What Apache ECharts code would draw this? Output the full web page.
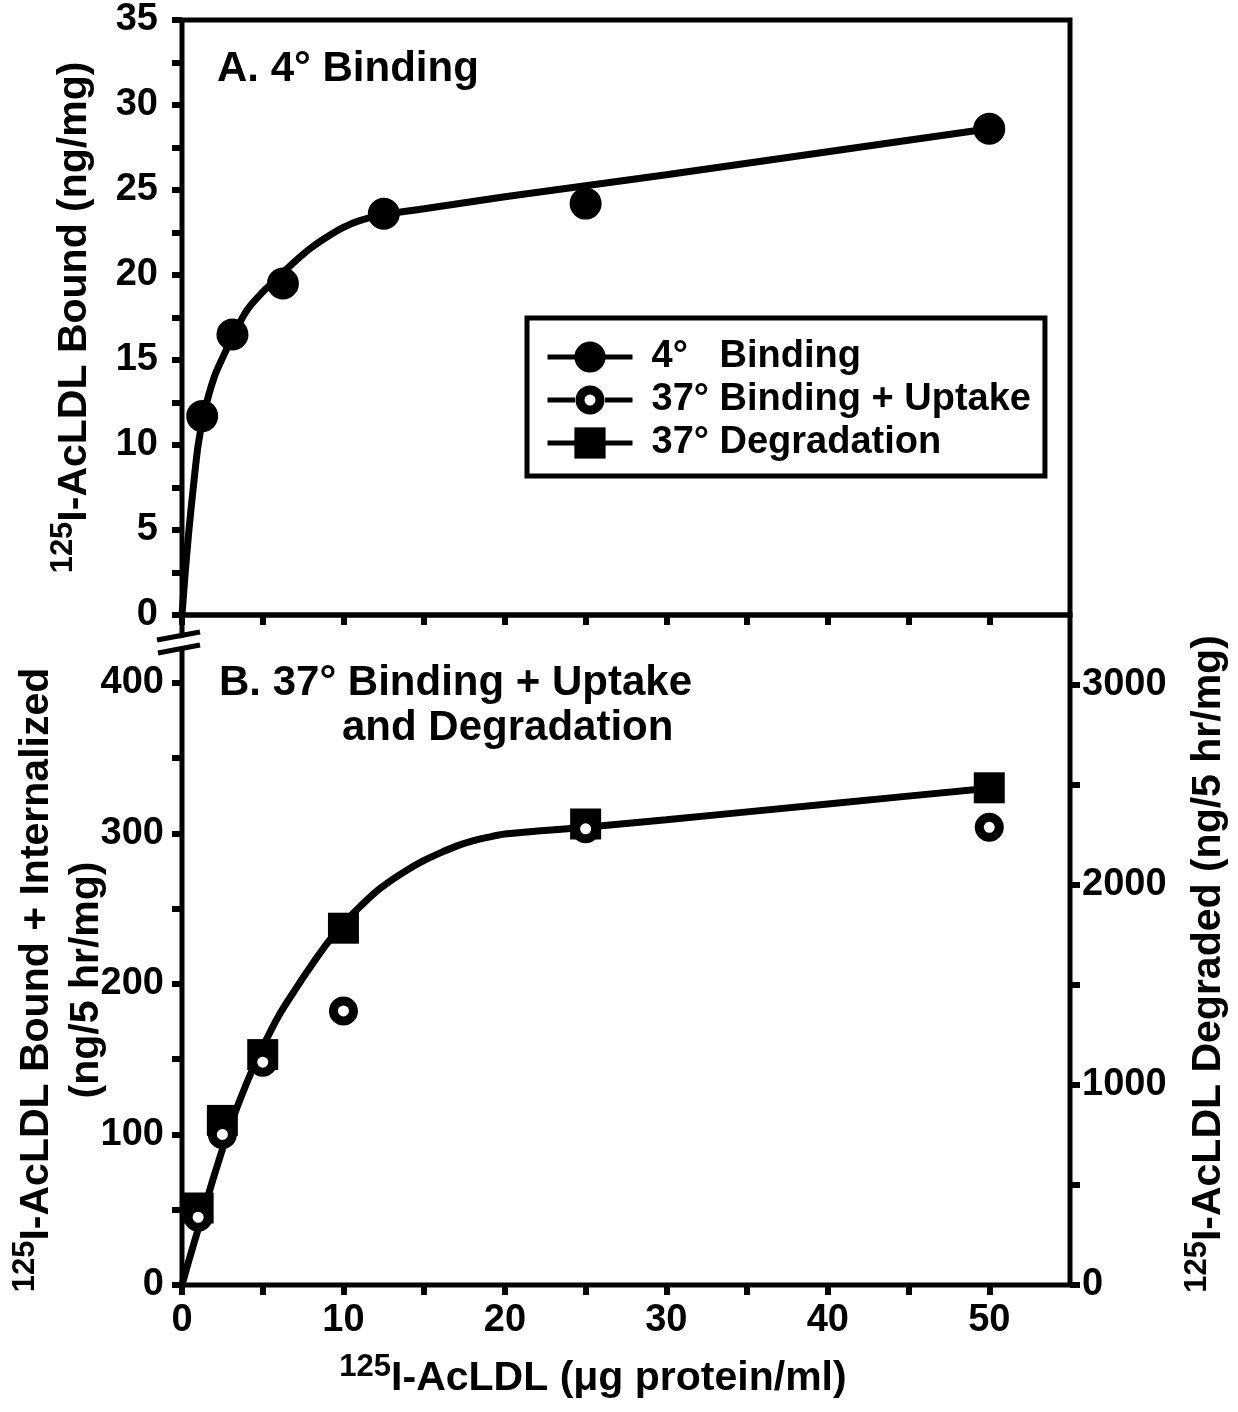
<!DOCTYPE html>
<html>
<head>
<meta charset="utf-8">
<script src="https://cdn.jsdelivr.net/npm/echarts@6/dist/echarts.min.js"></script>
<style>
  html, body { margin: 0; padding: 0; background: #fff; }
  #main { width: 1238px; height: 1412px; }
</style>
</head>
<body>
<div id="main"></div>
<script>
var FONT = '"Liberation Sans", Arial, Helvetica, sans-serif';

// panel A - 4° binding (ng/mg)
var bindConc = [1.25, 3.125, 6.25, 12.5, 25, 50];
var bind4 = [11.7, 16.5, 19.5, 23.6, 24.2, 28.6];
var fitAConc = [0, 0.2, 0.43, 0.7, 1, 1.4, 2, 2.6, 3.1, 4, 5, 6, 7, 8, 9, 10, 11, 12.5, 15, 20, 25, 30, 40, 50];
var fitA = [0, 2.5, 5, 7.5, 10, 12, 14, 15.3, 16.3, 17.9, 19.0, 19.9, 20.8, 21.6, 22.25, 22.8, 23.2, 23.55, 23.9, 24.6, 25.25, 25.9, 27.25, 28.6];

// panel B - 37° uptake (left axis) and degradation (right axis)
var conc37 = [1, 2.5, 5, 10, 25, 50];
var uptake37 = [45, 100, 148, 182, 303, 304];
var degraded37 = [385, 823, 1152, 1784, 2305, 2486];
var fitBConc = [0, 0.5, 1, 1.5, 2, 3, 4, 5, 6, 7, 8, 9, 10, 11, 12, 13, 14, 15, 16, 17, 18, 19, 20, 22, 25, 30, 40, 50];
var fitB = [0, 19, 37, 55, 73, 106, 134, 158, 179, 196, 212, 227, 240, 251, 261, 269, 276, 282, 287, 291.5, 295, 297.5, 299.5, 301.5, 304, 309, 319.5, 330];

// ticks / labels
var xTicks = [0, 5, 10, 15, 20, 25, 30, 35, 40, 45, 50];
var xLabels = [0, 10, 20, 30, 40, 50];
var yATicks = [0, 2.5, 5, 7.5, 10, 12.5, 15, 17.5, 20, 22.5, 25, 27.5, 30, 32.5, 35];
var yALabels = [0, 5, 10, 15, 20, 25, 30, 35];
var yBTicks = [0, 50, 100, 150, 200, 250, 300, 350, 400];
var yBLabels = [0, 100, 200, 300, 400];
var yRTicks = [0, 500, 1000, 1500, 2000, 2500, 3000];
var yRLabels = [0, 1000, 2000, 3000];

var seriesNames = ['4°   Binding', '37° Binding + Uptake', '37° Degradation'];

function pairs(xs, ys) {
  return xs.map(function (x, i) { return [x, ys[i]]; });
}

var tickStyle = { color: '#000', width: 6 };
var labelStyle = {
  color: '#000', fontSize: 38, fontWeight: 'bold', fontFamily: FONT,
  formatter: function (v) { return String(v); }
};
var rich = {
  s: { fontSize: 31, fontWeight: 'bold', fontFamily: FONT, color: '#000', lineHeight: 31, verticalAlign: 'top' },
  m: { fontSize: 41, fontWeight: 'bold', fontFamily: FONT, color: '#000', lineHeight: 54, verticalAlign: 'middle' },
  m2: { fontSize: 41, fontWeight: 'bold', fontFamily: FONT, color: '#000', lineHeight: 46, verticalAlign: 'middle' }
};

function nameStyle(pad) {
  return { fontSize: 41, fontWeight: 'bold', fontFamily: FONT, color: '#000', rich: rich, padding: pad };
}

// grid geometry (also used for the axis break marks)
var gLeft = 182, gWidth = 888;
var gA = { top: 20, height: 595 };
var gB = { top: 615, height: 670 };

var chart = echarts.init(document.getElementById('main'), null, { renderer: 'canvas' });

var option = {
  backgroundColor: '#fff',
  animation: false,
  grid: [
    { left: gLeft, width: gWidth, top: gA.top, height: gA.height, outerBoundsMode: 'none', containLabel: false,
      show: true, borderColor: '#000', borderWidth: 5, backgroundColor: 'transparent' },
    { left: gLeft, width: gWidth, top: gB.top, height: gB.height, outerBoundsMode: 'none', containLabel: false,
      show: true, borderColor: '#000', borderWidth: 5, backgroundColor: 'transparent' }
  ],
  xAxis: [
    {
      gridIndex: 0, type: 'value', min: 0, max: 55,
      axisLine: { show: false, onZero: false },
      axisTick: { show: true, customValues: xTicks, length: 10, lineStyle: tickStyle },
      axisLabel: { show: false },
      splitLine: { show: false }
    },
    {
      gridIndex: 1, type: 'value', min: 0, max: 55,
      axisLine: { show: false, onZero: false },
      axisTick: { show: true, customValues: xTicks, length: 10, lineStyle: tickStyle },
      axisLabel: Object.assign({ customValues: xLabels, margin: 17 }, labelStyle),
      splitLine: { show: false },
      name: '{s|125}{m|I-AcLDL (μg protein/ml)}',
      nameLocation: 'middle', nameGap: 67, nameMoveOverlap: false,
      nameTextStyle: nameStyle([0, 66, 0, 0])
    }
  ],
  yAxis: [
    {
      gridIndex: 0, type: 'value', min: 0, max: 35, position: 'left',
      axisLine: { show: false, onZero: false },
      axisTick: { show: true, customValues: yATicks, length: 10, lineStyle: tickStyle },
      axisLabel: Object.assign({ customValues: yALabels, margin: 24 }, labelStyle),
      splitLine: { show: false },
      name: '{s|125}{m|I-AcLDL Bound (ng/mg)}',
      nameLocation: 'middle', nameRotate: 90, nameGap: 80, nameMoveOverlap: false,
      nameTextStyle: nameStyle(0)
    },
    {
      gridIndex: 1, type: 'value', min: 0, max: 445, position: 'left',
      axisLine: { show: false, onZero: false },
      axisTick: { show: true, customValues: yBTicks, length: 10, lineStyle: tickStyle },
      axisLabel: Object.assign({ customValues: yBLabels, margin: 18 }, labelStyle),
      splitLine: { show: false },
      name: '{s|125}{m|I-AcLDL Bound + Internalized}\n{m2|(ng/5 hr/mg)}',
      nameLocation: 'middle', nameRotate: 90, nameGap: 72, nameMoveOverlap: false,
      nameTextStyle: nameStyle([0, 60, 0, 0])
    },
    {
      gridIndex: 1, type: 'value', min: 0, max: 3350, position: 'right',
      axisLine: { show: false, onZero: false },
      axisTick: { show: true, customValues: yRTicks, length: 10, lineStyle: tickStyle },
      axisLabel: Object.assign({ customValues: yRLabels, margin: 12 }, labelStyle),
      splitLine: { show: false },
      name: '{s|125}{m|I-AcLDL Degraded (ng/5 hr/mg)}',
      nameLocation: 'middle', nameRotate: 90, nameGap: 112, nameMoveOverlap: false,
      nameTextStyle: nameStyle([0, 28, 0, 0])
    }
  ],
  legend: {
    data: [
      { name: seriesNames[0] },
      {
        name: seriesNames[1],
        // line + ring with a white hole
        icon: 'path://M0,17L27.5,17L27.5,22L0,22Z M57.5,17L85,17L85,22L57.5,22Z M42.5,5A14.5,14.5,0,1,1,42.49,5Z M42.5,14A5.5,5.5,0,1,0,42.51,14Z',
        itemStyle: { color: '#000', borderWidth: 0 }
      },
      { name: seriesNames[2] }
    ],
    orient: 'vertical',
    left: 527, top: 318,
    itemWidth: 85, itemHeight: 39, itemGap: 5,
    padding: [20, 14, 14, 18],
    borderColor: '#000', borderWidth: 5, backgroundColor: '#fff',
    selectedMode: false,
    lineStyle: { color: '#000', width: 5, opacity: 1 },
    textStyle: { color: '#000', fontSize: 38, fontWeight: 'bold', fontFamily: FONT, padding: [0, 0, 0, 14] }
  },
  graphic: [
    { type: 'text', left: 217, top: 48, z: 50, style: { text: 'A. 4° Binding', font: 'bold 42px ' + FONT, fill: '#000' } },
    { type: 'text', left: 219, top: 662, z: 50, style: { text: 'B. 37° Binding + Uptake', font: 'bold 42px ' + FONT, fill: '#000' } },
    { type: 'text', left: 342, top: 707, z: 50, style: { text: 'and Degradation', font: 'bold 42px ' + FONT, fill: '#000' } },
    // axis break on the left axis
    { type: 'polygon', z: 100, shape: { points: [[gLeft - 16, gB.top + 26], [gLeft + 15, gB.top + 20], [gLeft + 15, gB.top + 31], [gLeft - 16, gB.top + 37]] }, style: { fill: '#fff' } },
    { type: 'line', z: 101, shape: { x1: gLeft - 25, y1: gB.top + 25, x2: gLeft + 18, y2: gB.top + 17 }, style: { stroke: '#000', lineWidth: 5 } },
    { type: 'line', z: 101, shape: { x1: gLeft - 24, y1: gB.top + 38, x2: gLeft + 18, y2: gB.top + 30 }, style: { stroke: '#000', lineWidth: 5 } }
  ],
  series: [
    {
      name: 'fitA', type: 'line', xAxisIndex: 0, yAxisIndex: 0,
      data: pairs(fitAConc, fitA), smooth: 0.3, showSymbol: false, silent: true, z: 2,
      lineStyle: { color: '#000', width: 7 }
    },
    {
      name: seriesNames[0], type: 'line', xAxisIndex: 0, yAxisIndex: 0,
      data: pairs(bindConc, bind4), symbol: 'circle', symbolSize: 32, z: 5,
      lineStyle: { width: 0 }, itemStyle: { color: '#000' }
    },
    {
      name: 'fitB', type: 'line', xAxisIndex: 1, yAxisIndex: 1,
      data: pairs(fitBConc, fitB), smooth: 0.3, showSymbol: false, silent: true, z: 2,
      lineStyle: { color: '#000', width: 7 }
    },
    {
      name: seriesNames[2], type: 'line', xAxisIndex: 1, yAxisIndex: 2,
      data: pairs(conc37, degraded37), symbol: 'rect', symbolSize: 31, z: 5,
      lineStyle: { width: 0 }, itemStyle: { color: '#000' }
    },
    {
      name: seriesNames[1], type: 'line', xAxisIndex: 1, yAxisIndex: 1,
      data: pairs(conc37, uptake37), symbol: 'circle', symbolSize: 20, z: 6,
      lineStyle: { width: 0 }, itemStyle: { color: '#fff', borderColor: '#000', borderWidth: 9 }
    }
  ]
};

chart.setOption(option);
</script>
</body>
</html>
